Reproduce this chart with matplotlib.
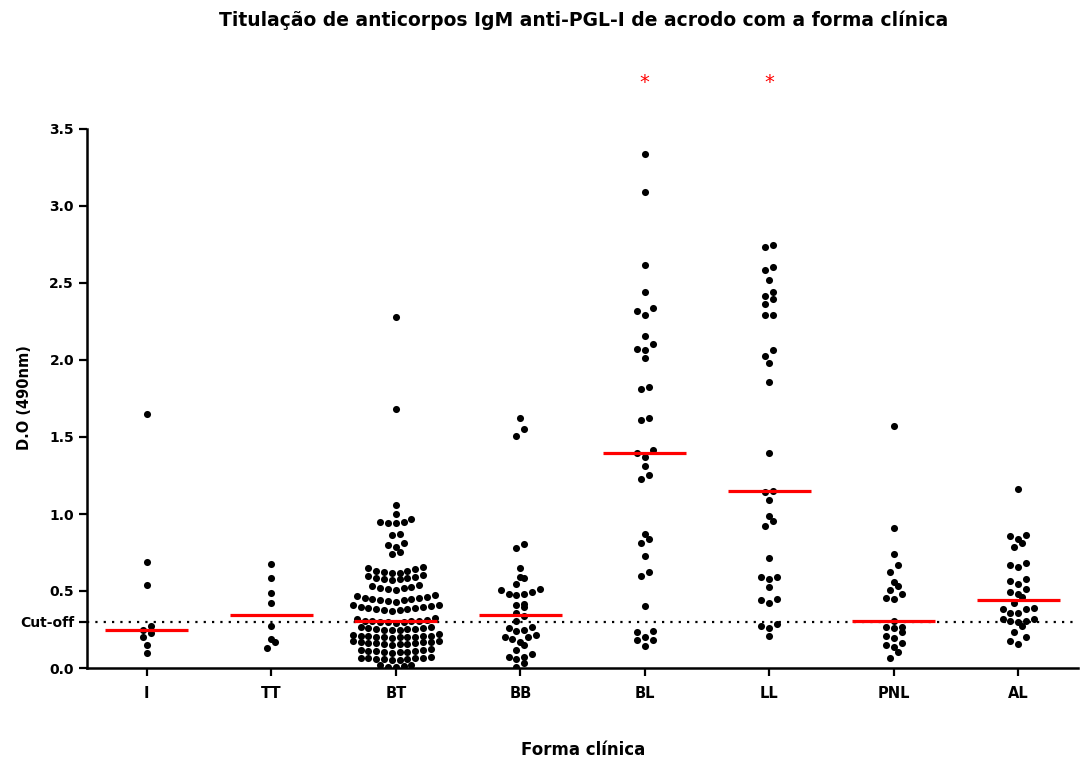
import numpy as np
import matplotlib
matplotlib.use("Agg")
import matplotlib.pyplot as plt

plt.rcParams['font.family'] = ['DejaVu Sans']

# ---------------- data ----------------
categories = ["I", "TT", "BT", "BB", "BL", "LL", "PNL", "AL"]

vals_I = [1.65, 0.69, 0.54, 0.27, 0.25, 0.23, 0.20, 0.15, 0.10]
vals_TT = [0.673, 0.582, 0.489, 0.420, 0.273, 0.186, 0.167, 0.128]
vals_BT = [2.28, 1.68, 1.056, 1.002, 0.966, 0.950, 0.946, 0.944, 0.940,
           0.868, 0.862, 0.810, 0.800, 0.788, 0.755, 0.738,
           0.655, 0.648, 0.641, 0.633, 0.627, 0.622, 0.619, 0.618,
           0.601, 0.597, 0.592, 0.587, 0.583, 0.579, 0.575, 0.571,
           0.538, 0.531, 0.527, 0.522, 0.517, 0.513, 0.509,
           0.471, 0.466, 0.461, 0.457, 0.452, 0.449, 0.446, 0.442, 0.439, 0.436, 0.431,
           0.412, 0.407, 0.401, 0.398, 0.394, 0.391, 0.388, 0.385, 0.382, 0.379, 0.376, 0.373,
           0.322, 0.316, 0.310, 0.306, 0.305, 0.304, 0.303, 0.301, 0.299, 0.297, 0.294,
           0.268, 0.264, 0.261, 0.258, 0.256, 0.253, 0.251, 0.249, 0.248, 0.246,
           0.218, 0.214, 0.211, 0.209, 0.207, 0.206, 0.204, 0.203, 0.202, 0.201, 0.200, 0.198,
           0.178, 0.175, 0.172, 0.170, 0.167, 0.165, 0.163, 0.161, 0.158, 0.156, 0.153, 0.150,
           0.122, 0.119, 0.116, 0.113, 0.111, 0.109, 0.107, 0.105, 0.103, 0.100,
           0.071, 0.068, 0.066, 0.064, 0.062, 0.060, 0.058, 0.056, 0.054, 0.052,
           0.021, 0.017, 0.012, 0.008, 0.004]
vals_BB = [1.621, 1.550, 1.509, 0.805, 0.777, 0.647, 0.593, 0.587, 0.545, 0.511,
           0.506, 0.494, 0.481, 0.481, 0.474, 0.413, 0.411, 0.398, 0.355, 0.338,
           0.307, 0.268, 0.262, 0.247, 0.242, 0.214, 0.203, 0.199, 0.190, 0.171,
           0.149, 0.117, 0.091, 0.074, 0.069, 0.056, 0.030, 0.008]
vals_BL = [3.340, 3.092, 2.618, 2.444, 2.340, 2.315, 2.295, 2.157, 2.105, 2.072,
           2.065, 2.010, 1.826, 1.809, 1.623, 1.611, 1.413, 1.397, 1.373, 1.311,
           1.253, 1.226, 0.871, 0.839, 0.814, 0.727, 0.623, 0.596, 0.400, 0.241,
           0.236, 0.199, 0.184, 0.179, 0.144]
vals_LL = [2.745, 2.733, 2.603, 2.583, 2.522, 2.444, 2.415, 2.395, 2.365, 2.295,
           2.295, 2.062, 2.025, 1.978, 1.856, 1.397, 1.149, 1.144, 1.089, 0.990,
           0.956, 0.921, 0.715, 0.594, 0.591, 0.578, 0.529, 0.449, 0.442, 0.422,
           0.288, 0.273, 0.258, 0.206]
vals_PNL = [1.574, 0.907, 0.740, 0.669, 0.625, 0.561, 0.535, 0.506, 0.483, 0.452,
            0.448, 0.307, 0.264, 0.264, 0.258, 0.236, 0.208, 0.193, 0.164, 0.149,
            0.134, 0.106, 0.065]
vals_AL = [1.162, 0.861, 0.859, 0.838, 0.814, 0.784, 0.680, 0.667, 0.656, 0.580,
           0.565, 0.545, 0.513, 0.496, 0.481, 0.463, 0.420, 0.388, 0.383, 0.381,
           0.355, 0.355, 0.320, 0.318, 0.305, 0.305, 0.301, 0.273, 0.236, 0.199,
           0.175, 0.156]

groups = [vals_I, vals_TT, vals_BT, vals_BB, vals_BL, vals_LL, vals_PNL, vals_AL]
cutoff = 0.3
significant = ["BL", "LL"]
yticks = [0.0, 0.5, 1.0, 1.5, 2.0, 2.5, 3.0, 3.5]

title = "Titulação de anticorpos IgM anti-PGL-I de acrodo com a forma clínica"
xlabel = "Forma clínica"
ylabel = "D.O (490nm)"


# ---------------- layout helpers ----------------
def swarm_offsets(vals, bw=0.046, step=0.0627):
    v = np.asarray(vals, dtype=float)
    order = np.argsort(v, kind="stable")
    sv = v[order]
    offs = np.zeros(len(v))
    grps, cur, start = [], [0], sv[0]
    for k in range(1, len(sv)):
        if sv[k] - start > bw:
            grps.append(cur)
            cur, start = [k], sv[k]
        else:
            cur.append(k)
    grps.append(cur)
    for g in grps:
        n = len(g)
        if n % 2:
            slots = [0] + [s for j in range(1, n // 2 + 1) for s in (-j, j)]
        else:
            slots = [s for j in range(n // 2) for s in (-(j + 0.5), j + 0.5)]
        for k, sl in zip(g, slots):
            offs[order[k]] = sl * step
    return offs


W, H = 1080, 760
fig = plt.figure(figsize=(W / 100, H / 100), dpi=100)
fig.patch.set_facecolor("white")
ax = fig.add_axes([87 / W, 1 - 668 / H, (1078 - 87) / W, (668 - 129) / H])

for i, vals in enumerate(groups):
    offs = swarm_offsets(vals)
    ax.scatter(i + offs, vals, s=26, color="black", linewidths=0, zorder=3)
    med = float(np.median(vals))
    ax.hlines(med, i - 0.335, i + 0.335, color="#ff0000", lw=2.3, zorder=4)

ax.axhline(cutoff, color="black", lw=1.6, ls=(0, (1, 2.75)), zorder=2)

for name in significant:
    i = categories.index(name)
    ax.text(i, 3.8, "*", color="#ff0000", ha="center", va="center",
            fontsize=14, clip_on=False)

ax.set_xlim(-0.48, 7.48)
ax.set_ylim(0, 3.5)
ax.set_xticks(range(len(categories)))
ax.set_xticklabels(categories, fontsize=10.5, fontweight="bold")
ticks = sorted(yticks + [cutoff])
ax.set_yticks(ticks)
ax.set_yticklabels(["Cut-off" if t == cutoff else f"{t:.1f}" for t in ticks],
                   fontsize=10, fontweight="bold")

for side in ["top", "right"]:
    ax.spines[side].set_visible(False)
for side in ["left", "bottom"]:
    ax.spines[side].set_linewidth(1.8)
ax.tick_params(axis="both", width=1.6, length=5.8, direction="out")
ax.tick_params(axis="y", pad=3.5)
ax.tick_params(axis="x", pad=7)

fig.text(584 / W, 1 - 20 / H, title, ha="center", va="center",
         fontsize=13.5, fontweight="bold")
fig.text(583 / W, 1 - 750 / H, xlabel, ha="center", va="center",
         fontsize=12, fontweight="bold")
fig.text(25 / W, 1 - 398 / H, ylabel, ha="center", va="center",
         rotation=90, fontsize=10.5, fontweight="bold")

fig.savefig("out.png", dpi=100, facecolor="white")
